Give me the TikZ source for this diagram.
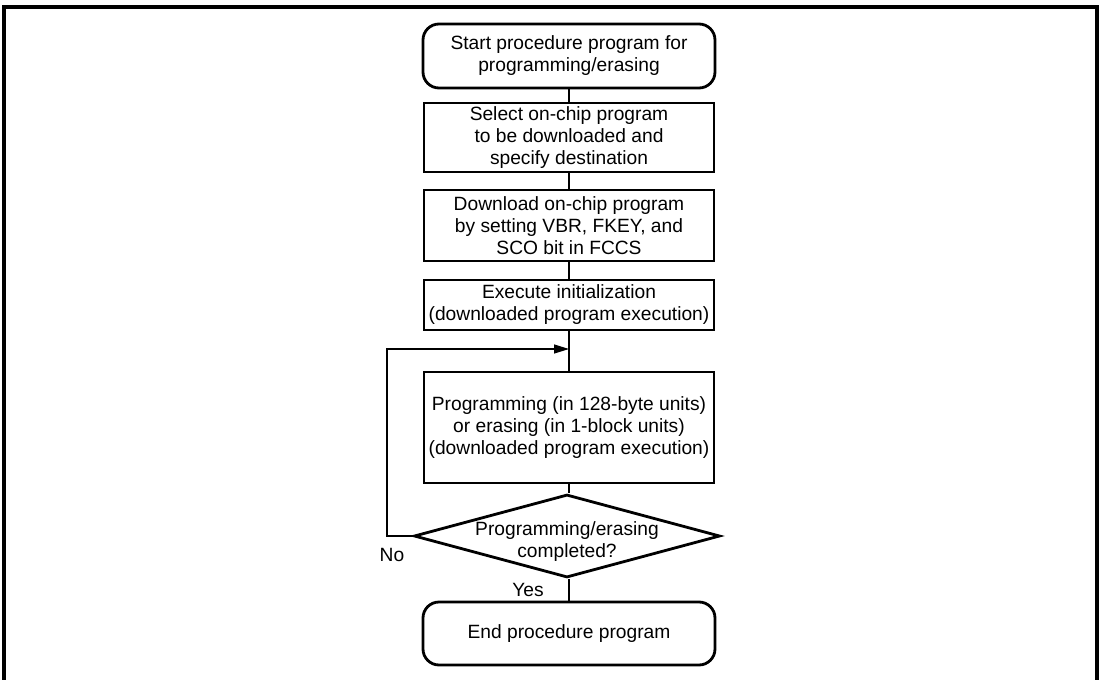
\documentclass[tikz,border=0pt]{standalone}
\usepackage{fontspec}
\setmainfont{Liberation Sans}
\usetikzlibrary{shapes.geometric,arrows.meta}
\begin{document}
\begin{tikzpicture}[x=1pt,y=-1pt,
  txt/.style={font=\fontsize{19.2}{22}\selectfont, align=center},
  procbox/.style={txt, draw, line width=2.8pt, minimum width=290pt, inner sep=0pt},
  termbox/.style={procbox, rounded corners=16pt, minimum width=292pt},
  decision/.style={diamond, draw, line width=2.8pt, minimum width=306pt, minimum height=83pt, inner sep=0pt},
  conn/.style={line width=1.3pt},
  lbl/.style={font=\fontsize{19.2}{22}\selectfont}]
\useasboundingbox (0,0) rectangle (1101,680);
\clip (0,0) rectangle (1101,680);
\draw[line width=4pt] (4,7) rectangle (1097,700);

\node[termbox, minimum height=64pt] (start) at (569,56) {Start procedure program for\\programming/erasing};
\node[procbox, minimum height=69pt] (sel) at (569,137.5) {Select on-chip program\\to be downloaded and\\specify destination};
\node[procbox, minimum height=71pt] (dl) at (569,225.5) {Download on-chip program\\by setting VBR, FKEY, and\\SCO bit in FCCS};
\node[procbox, minimum height=50pt] (init) at (569,305) {Execute initialization\\(downloaded program execution)};
\node[procbox, minimum height=111pt] (prog) at (569,427.5) {Programming (in 128-byte units)\\or erasing (in 1-block units)\\(downloaded program execution)};
\node[decision, label={[txt, yshift=-6pt]center:{Programming/erasing\\completed?}}] (dec) at (567,536) {};
\node[termbox, minimum height=63pt] (end) at (569,633.5) {End procedure program};

\coordinate (j) at (569,349);
\coordinate (cl) at (387,536);

\draw[conn] (start.south) -- (sel.north);
\draw[conn] (sel.south) -- (dl.north);
\draw[conn] (dl.south) -- (init.north);
\draw[conn] (init.south) -- (prog.north);
\draw[conn] (prog.south) -- (prog.south |- dec.north);
\draw[conn] (dec.south -| end.north) -- (end.north);
\draw[conn, -{Triangle[length=15pt,width=9pt]}] (dec.west) -- (cl) |- (j);

\node[lbl] (no) at (392,555) {No};
\node[lbl] (yes) at (528,590) {Yes};
\end{tikzpicture}
\end{document}
